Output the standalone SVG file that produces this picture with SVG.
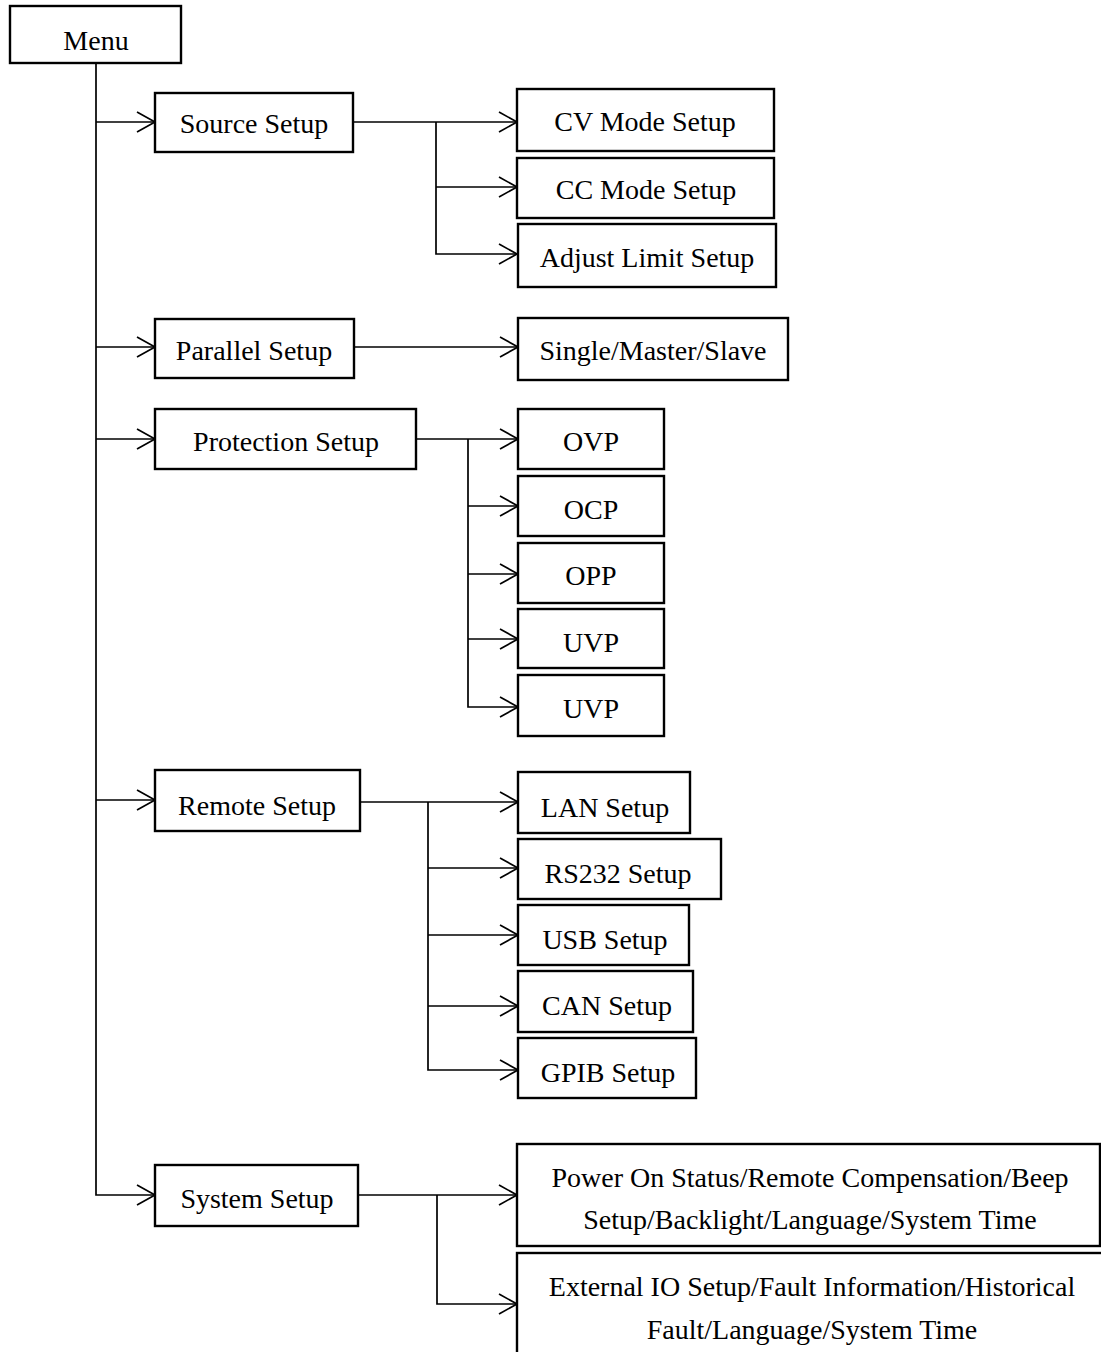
<svg xmlns="http://www.w3.org/2000/svg" width="1101" height="1352" viewBox="0 0 1101 1352">
<style>
.box{fill:#fff;stroke:#000;stroke-width:2.4}
.lbl{font-family:"Liberation Serif","Times New Roman",serif;font-size:28px;fill:#000;text-anchor:middle}
.con{fill:none;stroke:#000;stroke-width:1.7}
</style>
<defs>
<marker id="arr" markerUnits="userSpaceOnUse" markerWidth="22" markerHeight="24" viewBox="0 0 22 24" refX="20" refY="12" orient="auto">
<path d="M2,2 L20,12 L2,22" fill="none" stroke="#000" stroke-width="1.7"/>
</marker>
</defs>
<rect width="1101" height="1352" fill="#fff"/>
<g id="connectors">
<path class="con" d="M96,63 V1195 H155" marker-end="url(#arr)"/>
<path class="con" d="M96,122 H155" marker-end="url(#arr)"/>
<path class="con" d="M96,347 H155" marker-end="url(#arr)"/>
<path class="con" d="M96,439 H155" marker-end="url(#arr)"/>
<path class="con" d="M96,800 H155" marker-end="url(#arr)"/>
<path class="con" d="M353,122 H517" marker-end="url(#arr)"/>
<path class="con" d="M436,122 V254 H517" marker-end="url(#arr)"/>
<path class="con" d="M436,187 H517" marker-end="url(#arr)"/>
<path class="con" d="M354,347 H518" marker-end="url(#arr)"/>
<path class="con" d="M416,439 H518" marker-end="url(#arr)"/>
<path class="con" d="M468,439 V707 H518" marker-end="url(#arr)"/>
<path class="con" d="M468,506 H518" marker-end="url(#arr)"/>
<path class="con" d="M468,574 H518" marker-end="url(#arr)"/>
<path class="con" d="M468,639 H518" marker-end="url(#arr)"/>
<path class="con" d="M360,802 H518" marker-end="url(#arr)"/>
<path class="con" d="M428,802 V1070 H518" marker-end="url(#arr)"/>
<path class="con" d="M428,868 H518" marker-end="url(#arr)"/>
<path class="con" d="M428,935 H518" marker-end="url(#arr)"/>
<path class="con" d="M428,1006 H518" marker-end="url(#arr)"/>
<path class="con" d="M358,1195 H517" marker-end="url(#arr)"/>
<path class="con" d="M437,1195 V1304 H517" marker-end="url(#arr)"/>
</g>
<g id="menu"><rect class="box" x="10" y="6" width="171" height="57"/><text class="lbl" x="96" y="50">Menu</text></g>
<g id="source-setup"><rect class="box" x="155" y="93" width="198" height="59"/><text class="lbl" x="254" y="133">Source Setup</text></g>
<g id="cv-mode"><rect class="box" x="517" y="89" width="257" height="62"/><text class="lbl" x="645" y="131">CV Mode Setup</text></g>
<g id="cc-mode"><rect class="box" x="517" y="158" width="257" height="60"/><text class="lbl" x="646" y="199">CC Mode Setup</text></g>
<g id="adjust-limit"><rect class="box" x="518" y="224" width="258" height="63"/><text class="lbl" x="647" y="267">Adjust Limit Setup</text></g>
<g id="parallel-setup"><rect class="box" x="155" y="319" width="199" height="59"/><text class="lbl" x="254" y="360">Parallel Setup</text></g>
<g id="single-master-slave"><rect class="box" x="518" y="318" width="270" height="62"/><text class="lbl" x="653" y="360">Single/Master/Slave</text></g>
<g id="protection-setup"><rect class="box" x="155" y="409" width="261" height="60"/><text class="lbl" x="286" y="451">Protection Setup</text></g>
<g id="ovp"><rect class="box" x="518" y="409" width="146" height="60"/><text class="lbl" x="591" y="451">OVP</text></g>
<g id="ocp"><rect class="box" x="518" y="476" width="146" height="60"/><text class="lbl" x="591" y="519">OCP</text></g>
<g id="opp"><rect class="box" x="518" y="543" width="146" height="60"/><text class="lbl" x="591" y="585">OPP</text></g>
<g id="uvp1"><rect class="box" x="518" y="609" width="146" height="59"/><text class="lbl" x="591" y="652">UVP</text></g>
<g id="uvp2"><rect class="box" x="518" y="675" width="146" height="61"/><text class="lbl" x="591" y="718">UVP</text></g>
<g id="remote-setup"><rect class="box" x="155" y="770" width="205" height="61"/><text class="lbl" x="257" y="815">Remote Setup</text></g>
<g id="lan-setup"><rect class="box" x="518" y="772" width="172" height="61"/><text class="lbl" x="605" y="817">LAN Setup</text></g>
<g id="rs232-setup"><rect class="box" x="518" y="839" width="203" height="60"/><text class="lbl" x="618" y="883">RS232 Setup</text></g>
<g id="usb-setup"><rect class="box" x="518" y="905" width="171" height="60"/><text class="lbl" x="605" y="949">USB Setup</text></g>
<g id="can-setup"><rect class="box" x="518" y="971" width="175" height="61"/><text class="lbl" x="607" y="1015">CAN Setup</text></g>
<g id="gpib-setup"><rect class="box" x="518" y="1038" width="178" height="60"/><text class="lbl" x="608" y="1082">GPIB Setup</text></g>
<g id="system-setup"><rect class="box" x="155" y="1165" width="203" height="61"/><text class="lbl" x="257" y="1208">System Setup</text></g>
<g id="system-options-1"><rect class="box" x="517" y="1144" width="583" height="102"/><text class="lbl" x="810" y="1187">Power On Status/Remote Compensation/Beep</text><text class="lbl" x="810" y="1229">Setup/Backlight/Language/System Time</text></g>
<g id="system-options-2"><rect class="box" x="517" y="1253" width="600" height="130"/><text class="lbl" x="812" y="1296">External IO Setup/Fault Information/Historical</text><text class="lbl" x="812" y="1339">Fault/Language/System Time</text></g>
</svg>
